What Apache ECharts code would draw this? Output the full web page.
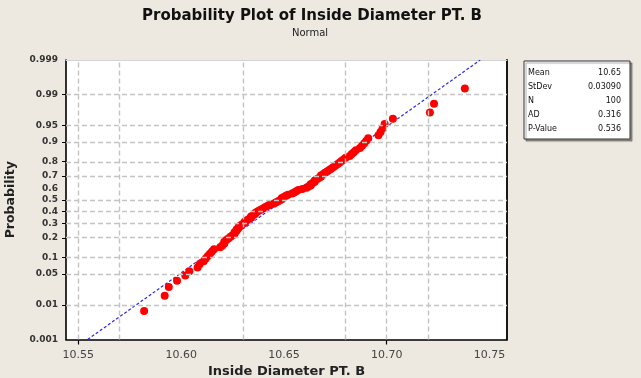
<!DOCTYPE html>
<html>
<head>
<meta charset="utf-8">
<script src="https://cdn.jsdelivr.net/npm/echarts@6/dist/echarts.min.js"></script>
<style>
html,body{margin:0;padding:0;background:#EDE9E1;}
#c{width:641px;height:378px;}
</style>
</head>
<body>
<div id="c"></div>
<script>
// ---- data (sorted inside diameters, n = 100) ----
const diameters = [
  10.582, 10.592, 10.594, 10.598, 10.602, 10.604, 10.608, 10.609, 10.611, 10.612,
  10.613, 10.614, 10.615, 10.616, 10.619, 10.620, 10.621, 10.621, 10.622, 10.623,
  10.624, 10.625, 10.626, 10.626, 10.627, 10.627, 10.628, 10.628, 10.629, 10.630,
  10.631, 10.631, 10.632, 10.633, 10.634, 10.634, 10.635, 10.636, 10.636, 10.637,
  10.638, 10.639, 10.640, 10.641, 10.642, 10.643, 10.645, 10.646, 10.647, 10.648,
  10.649, 10.649, 10.650, 10.651, 10.652, 10.654, 10.655, 10.656, 10.657, 10.659,
  10.661, 10.662, 10.663, 10.663, 10.664, 10.665, 10.665, 10.666, 10.667, 10.668,
  10.668, 10.669, 10.670, 10.671, 10.672, 10.673, 10.674, 10.675, 10.676, 10.677,
  10.678, 10.679, 10.680, 10.682, 10.683, 10.684, 10.685, 10.687, 10.688, 10.689,
  10.690, 10.691, 10.696, 10.697, 10.698, 10.699, 10.703, 10.721, 10.723, 10.738
];
const probTickLabels = [0.001, 0.01, 0.05, 0.1, 0.2, 0.3, 0.4, 0.5, 0.6, 0.7, 0.8, 0.9, 0.95, 0.99, 0.999];
const probGridLines = [0.01, 0.05, 0.1, 0.2, 0.3, 0.4, 0.5, 0.7, 0.8, 0.9, 0.95, 0.99];
const xTickLabels = [10.55, 10.60, 10.65, 10.70, 10.75];
const xTickMarks = [10.55, 10.70];
const xGridLines = [10.55, 10.575, 10.625, 10.675, 10.70, 10.725];
const fitMean = 10.65;
const fitStDev = 0.0309;
const statNames = ['Mean', 'StDev', 'N', 'AD', 'P-Value'];
const statValues = ['10.65', '0.03090', '100', '0.316', '0.536'];

// inverse standard normal CDF (Acklam) – the probability-axis transform
function normInv(p) {
  const a = [-3.969683028665376e+01, 2.209460984245205e+02, -2.759285104469687e+02, 1.383577518672690e+02, -3.066479806614716e+01, 2.506628277459239e+00];
  const b = [-5.447609879822406e+01, 1.615858368580409e+02, -1.556989798598866e+02, 6.680131188771972e+01, -1.328068155288572e+01];
  const c = [-7.784894002430293e-03, -3.223964580411365e-01, -2.400758277161838e+00, -2.549732539343734e+00, 4.374664141464968e+00, 2.938163982698783e+00];
  const d = [7.784695709041462e-03, 3.224671290700398e-01, 2.445134137142996e+00, 3.754408661907416e+00];
  const pl = 0.02425, ph = 1 - pl;
  let q, r;
  if (p < pl) { q = Math.sqrt(-2 * Math.log(p)); return (((((c[0]*q+c[1])*q+c[2])*q+c[3])*q+c[4])*q+c[5]) / ((((d[0]*q+d[1])*q+d[2])*q+d[3])*q+1); }
  if (p <= ph) { q = p - 0.5; r = q*q; return (((((a[0]*r+a[1])*r+a[2])*r+a[3])*r+a[4])*r+a[5])*q / (((((b[0]*r+b[1])*r+b[2])*r+b[3])*r+b[4])*r+1); }
  q = Math.sqrt(-2 * Math.log(1 - p));
  return -(((((c[0]*q+c[1])*q+c[2])*q+c[3])*q+c[4])*q+c[5]) / ((((d[0]*q+d[1])*q+d[2])*q+d[3])*q+1);
}

const n = diameters.length;
const points = diameters.map((v, i) => [v, normInv((i + 1 - 0.3) / (n + 0.4))]);
const zTop = normInv(0.999), zBot = normInv(0.001);
const fitLine = [[fitMean + zBot * fitStDev, zBot], [fitMean + zTop * fitStDev, zTop]];
const tickZ = probTickLabels.map(normInv);
const gridZ = probGridLines.map(normInv);

const FONT = 'DejaVu Sans';
const gridStyle = { color: '#c4c4c4', width: 1.4, type: [5, 3] };

const markLineData = xGridLines.map(v => ({ xAxis: v })).concat(gridZ.map(z => ({ yAxis: z })));

const chart = echarts.init(document.getElementById('c'), null, { renderer: 'canvas' });
chart.setOption({
  animation: false,
  backgroundColor: '#EDE9E1',
  grid: { left: 66, right: 134, top: 60, bottom: 38.5, show: true, backgroundColor: '#ffffff', borderWidth: 0, containLabel: false, outerBoundsMode: 'none' },
  xAxis: [{
    type: 'value', min: 10.544, max: 10.7585, position: 'bottom',
    axisLine: { onZero: false, lineStyle: { color: '#000', width: 1.6 } },
    axisTick: { show: true, customValues: xTickMarks, length: 5, lineStyle: { color: '#000', width: 1.2 } },
    axisLabel: { customValues: xTickLabels, formatter: v => v.toFixed(2), fontFamily: FONT, fontSize: 11, color: '#444', margin: 10 },
    splitLine: { show: false },
    name: 'Inside Diameter PT. B', nameLocation: 'middle', nameGap: 26,
    nameTextStyle: { fontFamily: FONT, fontSize: 13, fontWeight: 'bold', color: '#222' }
  }, {
    type: 'value', min: 10.544, max: 10.7585, position: 'top',
    axisLine: { show: true, onZero: false, lineStyle: { color: '#d4d4d4', width: 1 } },
    axisTick: { show: false }, axisLabel: { show: false }, splitLine: { show: false }
  }],
  yAxis: [{
    type: 'value', min: zBot, max: zTop, position: 'left',
    axisLine: { show: true, onZero: false, lineStyle: { color: '#000', width: 1.6 } },
    axisTick: { show: true, customValues: gridZ, length: 4, lineStyle: { color: '#000', width: 1 } },
    axisLabel: {
      customValues: tickZ, fontFamily: FONT, fontSize: 9, fontWeight: 'bold', color: '#333', margin: 8,
      formatter: v => {
        let best = 0;
        tickZ.forEach((z, i) => { if (Math.abs(z - v) < Math.abs(tickZ[best] - v)) best = i; });
        return String(probTickLabels[best]);
      }
    },
    splitLine: { show: false },
    name: 'Probability', nameLocation: 'middle', nameGap: 49, nameRotate: 90,
    nameTextStyle: { fontFamily: FONT, fontSize: 12.5, fontWeight: 'bold', color: '#222' }
  }, {
    type: 'value', min: zBot, max: zTop, position: 'right',
    axisLine: { show: true, onZero: false, lineStyle: { color: '#000', width: 1.8 } },
    axisTick: { show: false }, axisLabel: { show: false }, splitLine: { show: false }
  }],
  series: [{
    type: 'line', data: [], z: 1, silent: true,
    markLine: {
      silent: true, symbol: 'none', label: { show: false },
      lineStyle: gridStyle, data: markLineData, animation: false
    }
  }, {
    type: 'line', data: fitLine, z: 3, showSymbol: false, silent: true,
    lineStyle: { color: '#2a2ae6', width: 1.2, type: [3, 2] }
  }, {
    type: 'scatter', data: points, z: 4, symbol: 'circle', symbolSize: 8,
    itemStyle: { color: '#ff0000', opacity: 1 }
  }],
  graphic: [
    { type: 'text', x: 312, y: 16, style: { text: 'Probability Plot of Inside Diameter PT. B', fontFamily: FONT, fontSize: 15, fontWeight: 'bold', fill: '#111', align: 'center', verticalAlign: 'middle' } },
    { type: 'text', x: 310, y: 33, style: { text: 'Normal', fontFamily: FONT, fontSize: 10, fill: '#222', align: 'center', verticalAlign: 'middle' } },
    { type: 'rect', shape: { x: 524, y: 61, width: 106, height: 78 }, style: { fill: '#fff', stroke: '#333', lineWidth: 1, shadowColor: 'rgba(0,0,0,0.35)', shadowOffsetX: 2, shadowOffsetY: 2, shadowBlur: 1 } }
  ].concat(statNames.map((s, i) => ({ type: 'text', x: 528, y: 73 + i * 14, style: { text: s, fontFamily: FONT, fontSize: 8, fill: '#111', verticalAlign: 'middle' } })))
   .concat(statValues.map((s, i) => ({ type: 'text', x: 621, y: 73 + i * 14, style: { text: s, fontFamily: FONT, fontSize: 8, fill: '#111', align: 'right', verticalAlign: 'middle' } })))
});
</script>
</body>
</html>
